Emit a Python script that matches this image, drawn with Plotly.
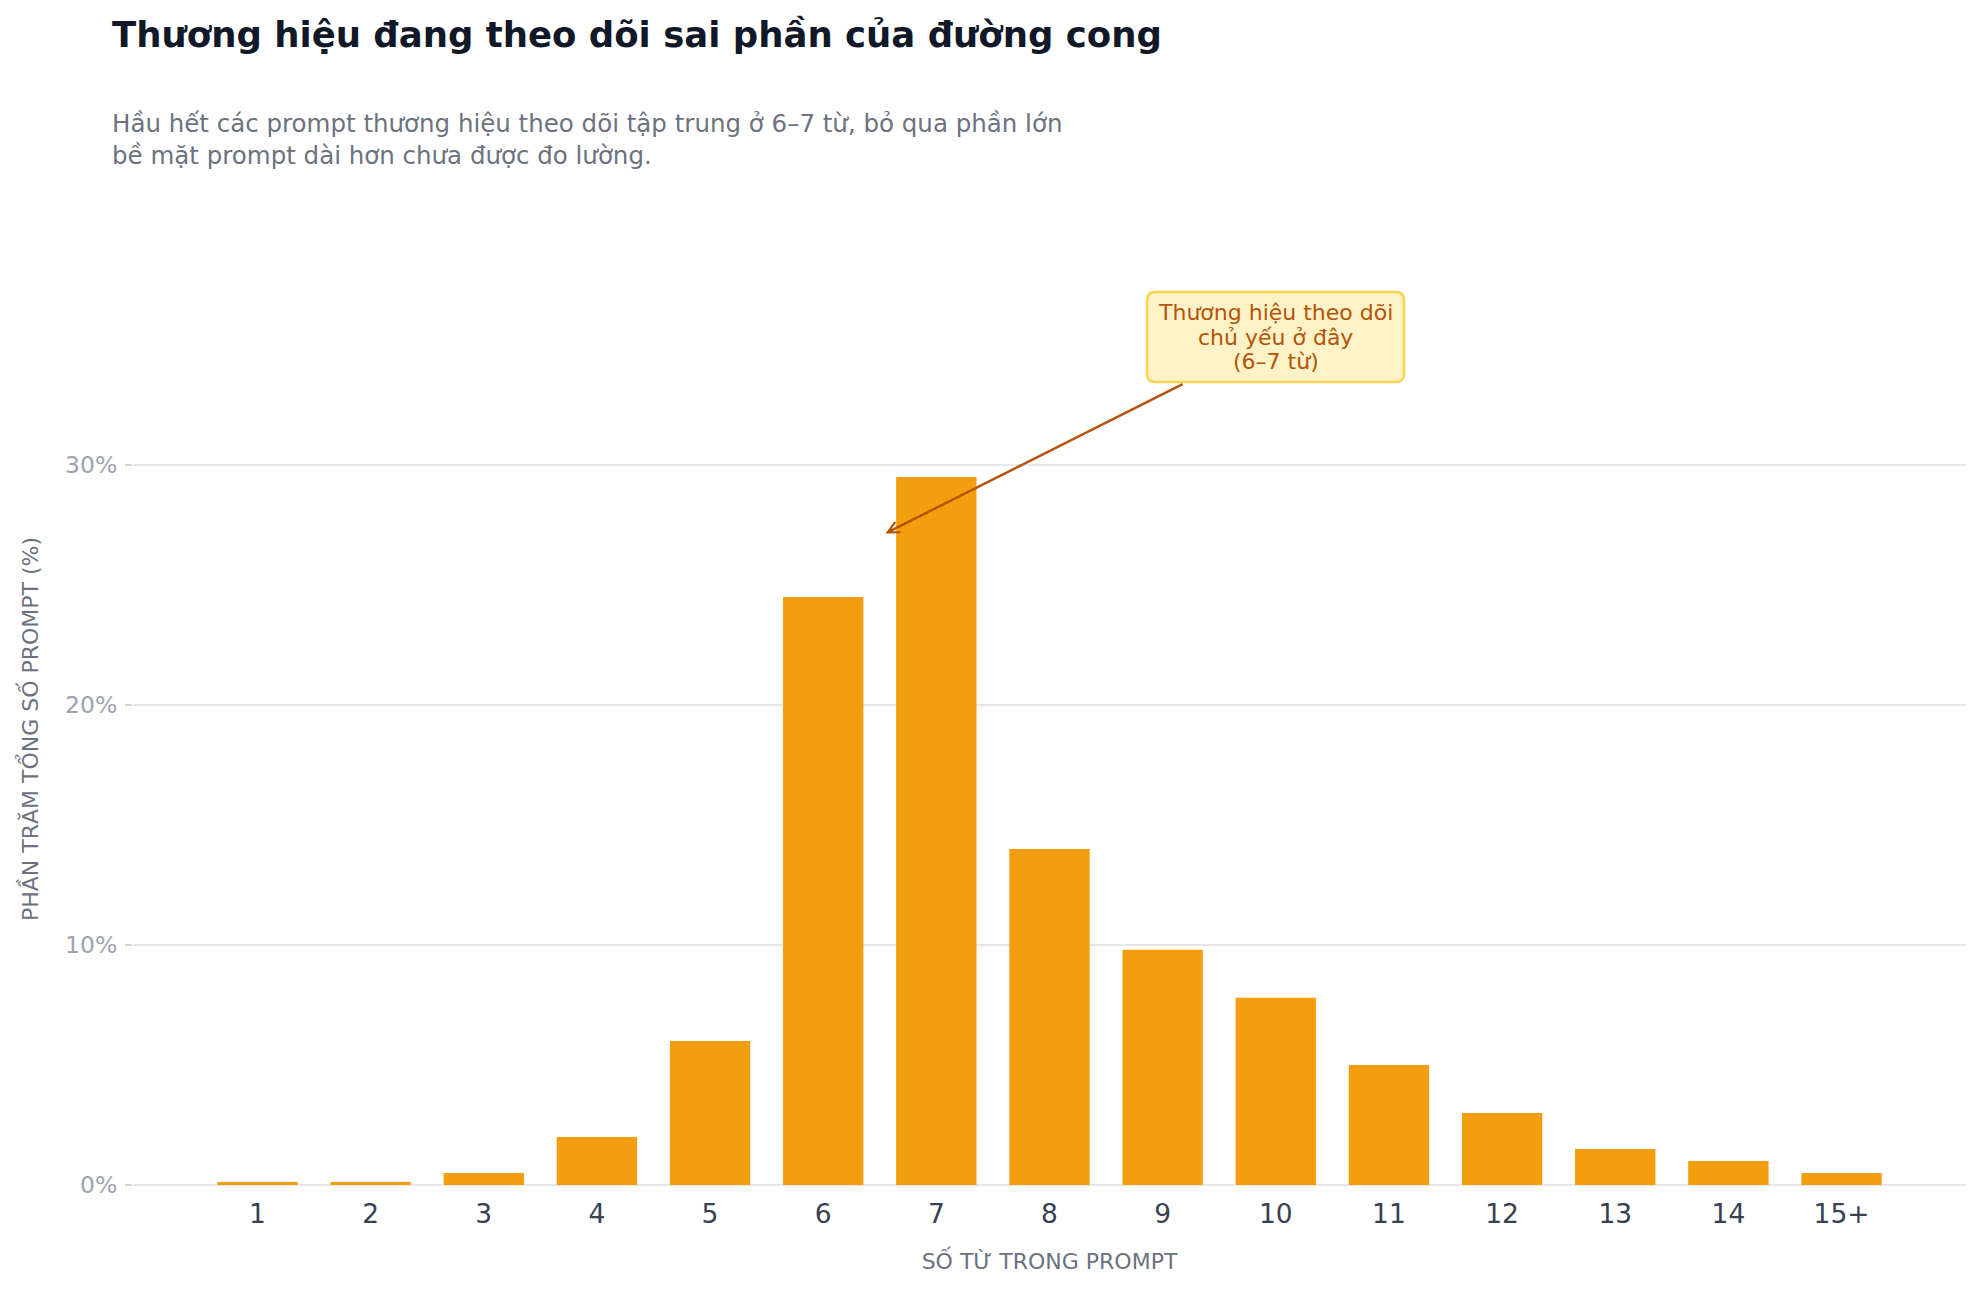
import plotly.graph_objects as go

categories = ["1", "2", "3", "4", "5", "6", "7", "8", "9", "10", "11", "12", "13", "14", "15+"]
share_pct = [0.12, 0.12, 0.5, 2.0, 6.0, 24.5, 29.5, 14.0, 9.8, 7.8, 5.0, 3.0, 1.5, 1.0, 0.5]

title_text = "Thương hiệu đang theo dõi sai phần của đường cong"
subtitle_text = ("Hầu hết các prompt thương hiệu theo dõi tập trung ở 6–7 từ, bỏ qua phần lớn<br>"
                 "bề mặt prompt dài hơn chưa được đo lường.")
callout_lines = ["Thương hiệu theo dõi", "chủ yếu ở đây", "(6–7 từ)"]
y_tick_vals = [0, 10, 20, 30]
y_tick_text = ["0%", "10%", "20%", "30%"]

FONT = "DejaVu Sans"

fig = go.Figure()
fig.add_trace(go.Bar(
    x=categories,
    y=share_pct,
    marker=dict(color="#f39e0e", line=dict(width=0)),
    hovertemplate="%{x}: %{y}%<extra></extra>",
))

fig.update_layout(
    width=1980,
    height=1294,
    paper_bgcolor="white",
    plot_bgcolor="white",
    margin=dict(l=133, r=14, t=273, b=109),
    bargap=0.29,
    showlegend=False,
    font=dict(family=FONT),
    xaxis=dict(
        type="category",
        range=[-1.1, 15.1],
        showgrid=False,
        showline=False,
        zeroline=False,
        ticks="",
        ticklabelstandoff=10,
        tickfont=dict(family=FONT, size=26.5, color="#374151"),
        title=dict(text="SỐ TỪ TRONG PROMPT", font=dict(family=FONT, size=22, color="#6b7280"), standoff=26),
        automargin=False,
    ),
    yaxis=dict(
        range=[0, 38],
        tickvals=y_tick_vals,
        ticktext=y_tick_text,
        showgrid=True,
        gridcolor="#e5e7eb",
        gridwidth=2,
        zeroline=True,
        zerolinecolor="#e5e7eb",
        zerolinewidth=2,
        showline=False,
        ticks="outside",
        ticklen=7,
        tickwidth=2,
        tickcolor="#d1d5db",
        ticklabelstandoff=3,
        tickfont=dict(family=FONT, size=23.5, color="#9ca3af"),
        title=dict(text="PHẦN TRĂM TỔNG SỐ PROMPT (%)", font=dict(family=FONT, size=22, color="#6b7280"), standoff=20),
        automargin=False,
    ),
)

# Title and subtitle
fig.add_annotation(
    text="<b>" + title_text + "</b>",
    xref="paper", yref="paper", x=-0.0125, y=1.2613,
    xanchor="left", yanchor="middle", showarrow=False,
    font=dict(family=FONT, size=35.5, color="#111827"), align="left",
)
fig.add_annotation(
    text=subtitle_text,
    xref="paper", yref="paper", x=-0.0125, y=1.146,
    xanchor="left", yanchor="middle", showarrow=False,
    font=dict(family=FONT, size=24.5, color="#6b7280"), align="left",
)

# Callout box (rounded) in paper coordinates
x0, x1 = 0.5532, 0.6934
y0, y1 = 0.8805, 0.9792
rx, ry = 0.0045, 0.009
path = (f"M {x0+rx},{y0} L {x1-rx},{y0} Q {x1},{y0} {x1},{y0+ry} "
        f"L {x1},{y1-ry} Q {x1},{y1} {x1-rx},{y1} "
        f"L {x0+rx},{y1} Q {x0},{y1} {x0},{y1-ry} "
        f"L {x0},{y0+ry} Q {x0},{y0} {x0+rx},{y0} Z")

# Arrow from the box to the peak region
fig.add_annotation(
    text="",
    x=5.55, y=27.15, xref="x", yref="y",
    ax=8.19, ay=33.4, axref="x", ayref="y",
    showarrow=True,
    arrowhead=5,
    arrowsize=0.9,
    arrowwidth=2.5,
    arrowcolor="#b45309",
)

fig.add_shape(
    type="path", path=path, xref="paper", yref="paper",
    fillcolor="#fef3c7", line=dict(color="#fcd34d", width=2.5), layer="above",
)

xc = (x0 + x1) / 2
for line_text, yy in zip(callout_lines, [0.9572, 0.9298, 0.9030]):
    fig.add_annotation(
        text=line_text,
        xref="paper", yref="paper", x=xc, y=yy,
        xanchor="center", yanchor="middle", showarrow=False,
        font=dict(family=FONT, size=22, color="#b45309"),
    )

fig.write_html("out.html")
